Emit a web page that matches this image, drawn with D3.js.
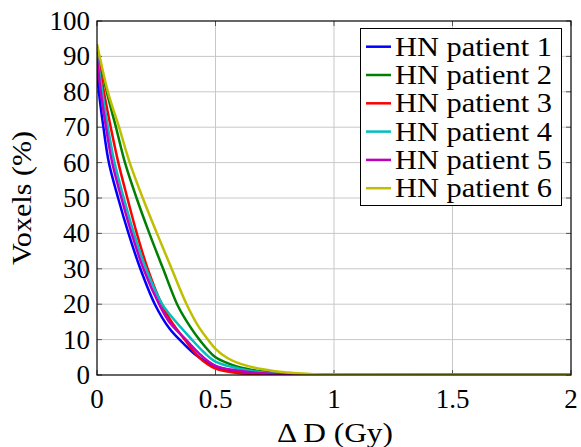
<!DOCTYPE html>
<html><head><meta charset="utf-8">
<script src="https://cdn.jsdelivr.net/npm/d3@7"></script>
<style>
html,body{margin:0;padding:0;background:#fff;}
</style></head>
<body><svg id="c" width="581" height="447"></svg>
<script>
// ---- data ----
const seriesNames = ["HN patient 1","HN patient 2","HN patient 3","HN patient 4","HN patient 5","HN patient 6"];
const seriesColors = ["#0000ff","#008000","#ff0000","#00bfbf","#bf00bf","#bfbf00"];
const xTicks = [0, 0.5, 1, 1.5, 2];
const xTickLabels = ["0","0.5","1","1.5","2"];
const yTicks = [0,10,20,30,40,50,60,70,80,90,100];
const yTickLabels = ["0","10","20","30","40","50","60","70","80","90","100"];

const p1 = [[0,86.5],[0.008,80],[0.027,70],[0.05,60],[0.089,50],[0.133,40],[0.183,30],[0.244,20],[0.305,13.2],[0.36,9.2],[0.42,5.5],[0.5,2.4],[0.6,0.9],[0.7,0.3],[0.8,0.1],[1.0,0],[2.0,0]];
const p2 = [[0,92.5],[0.041,80],[0.08,70],[0.118,60],[0.167,50],[0.221,40],[0.279,30],[0.338,20],[0.38,15],[0.432,10],[0.5,5],[0.55,3.4],[0.6,2.2],[0.7,1.0],[0.8,0.4],[0.9,0.15],[1.0,0.05],[1.2,0],[2.0,0]];
const p3 = [[0,91.5],[0.029,80],[0.058,70],[0.09,60],[0.128,50],[0.168,40],[0.214,30],[0.273,20],[0.31,15.5],[0.37,10],[0.43,5],[0.5,1.8],[0.55,1.0],[0.6,0.5],[0.7,0.15],[0.8,0.05],[1.0,0],[2.0,0]];
const p4 = [[0,90.5],[0.022,80],[0.046,70],[0.074,60],[0.113,50],[0.156,40],[0.207,30],[0.275,20],[0.308,17],[0.4,10],[0.45,6.5],[0.5,3.8],[0.6,1.8],[0.7,0.7],[0.8,0.25],[0.9,0.08],[1.0,0.02],[1.2,0],[2.0,0]];
const p5 = [[0,89.5],[0.016,80],[0.038,70],[0.064,60],[0.103,50],[0.146,40],[0.196,30],[0.262,20],[0.305,15],[0.375,10],[0.44,5.5],[0.5,2.6],[0.6,1.2],[0.7,0.5],[0.8,0.2],[0.9,0.07],[1.0,0],[2.0,0]];
const p6 = [[0,93.5],[0.046,80],[0.093,70],[0.138,60],[0.193,50],[0.253,40],[0.315,30],[0.378,20],[0.43,13.5],[0.468,10],[0.5,7.4],[0.55,4.8],[0.6,3.3],[0.7,1.6],[0.8,0.7],[0.9,0.3],[1.0,0.15],[1.2,0.05],[1.5,0.02],[2.0,0]];
const seriesData = [p1,p2,p3,p4,p5,p6];

// ---- layout ----
const FONT = '"Liberation Serif"';
const L = 97, R = 571, T = 21, B = 375;
const svg = d3.select("#c");
const x = d3.scaleLinear().domain([0,2]).range([L,R]);
const y = d3.scaleLinear().domain([0,100]).range([B,T]);

// grid
const g = svg.append("g");
g.selectAll("line.gx").data(xTicks.slice(1,-1)).enter().append("line")
  .attr("x1",d=>x(d)).attr("x2",d=>x(d)).attr("y1",T).attr("y2",B)
  .attr("stroke","#c8c8c8").attr("stroke-width",1);
g.selectAll("line.gy").data(yTicks.slice(1,-1)).enter().append("line")
  .attr("x1",L).attr("x2",R).attr("y1",d=>y(d)).attr("y2",d=>y(d))
  .attr("stroke","#c8c8c8").attr("stroke-width",1);

// inner ticks on all sides
const tk = 5;
g.selectAll("line.tl").data(yTicks).enter().append("line")
  .attr("x1",L).attr("x2",L+tk).attr("y1",d=>y(d)).attr("y2",d=>y(d)).attr("stroke","#555");
g.selectAll("line.tr").data(yTicks).enter().append("line")
  .attr("x1",R-tk).attr("x2",R).attr("y1",d=>y(d)).attr("y2",d=>y(d)).attr("stroke","#555");
g.selectAll("line.tb").data(xTicks).enter().append("line")
  .attr("x1",d=>x(d)).attr("x2",d=>x(d)).attr("y1",B-tk).attr("y2",B).attr("stroke","#555");
g.selectAll("line.tt").data(xTicks).enter().append("line")
  .attr("x1",d=>x(d)).attr("x2",d=>x(d)).attr("y1",T).attr("y2",T+tk).attr("stroke","#555");

// curves
const line = d3.line().x(d=>x(d[0])).y(d=>y(d[1])).curve(d3.curveCatmullRom.alpha(0.5));
svg.append("clipPath").attr("id","pc").append("rect")
  .attr("x",L).attr("y",T-3).attr("width",R-L).attr("height",B-T+3);
svg.append("g").attr("clip-path","url(#pc)").selectAll("path").data(seriesData).enter().append("path")
  .attr("d",d=>line(d)).attr("fill","none")
  .attr("stroke",(d,i)=>seriesColors[i]).attr("stroke-width",2.5)
  .attr("stroke-linejoin","round");

// frame
svg.append("rect").attr("x",L).attr("y",T).attr("width",R-L).attr("height",B-T)
  .attr("fill","none").attr("stroke","#000").attr("stroke-width",1.2);

// tick labels
const fs = 27;
svg.selectAll("text.xt").data(xTicks).enter().append("text")
  .style("font-family",FONT)
  .attr("x",d=>x(d)).attr("y",408).attr("text-anchor","middle")
  .attr("font-size",fs).text((d,i)=>xTickLabels[i]);
svg.selectAll("text.yt").data(yTicks).enter().append("text")
  .style("font-family",FONT)
  .attr("x",90).attr("y",d=>y(d)+9).attr("text-anchor","end")
  .attr("font-size",fs).text((d,i)=>yTickLabels[i]);

// axis labels
svg.append("text").style("font-family",FONT).attr("x",335).attr("y",442).attr("text-anchor","middle")
  .attr("font-size",fs).attr("textLength",116).attr("lengthAdjust","spacingAndGlyphs").text("\u0394 D (Gy)");
svg.append("text").style("font-family",FONT).attr("transform","translate(31,198) rotate(-90)").attr("text-anchor","middle")
  .attr("font-size",fs).attr("textLength",134).attr("lengthAdjust","spacingAndGlyphs").text("Voxels (%)");

// legend
const lg = svg.append("g");
lg.append("rect").attr("x",360.5).attr("y",28.5).attr("width",201).attr("height",177)
  .attr("fill","#fff").attr("stroke","#000").attr("stroke-width",1);
const rows = lg.selectAll("g.row").data(seriesNames).enter().append("g")
  .attr("transform",(d,i)=>`translate(0,${46.7+28.3*i})`);
rows.append("line").attr("x1",366).attr("x2",391).attr("y1",0).attr("y2",0)
  .attr("stroke",(d,i)=>seriesColors[i]).attr("stroke-width",2.5);
rows.append("text").style("font-family",FONT).attr("x",395).attr("y",9).attr("font-size",fs)
  .attr("textLength",157).attr("lengthAdjust","spacingAndGlyphs").text(d=>d);
</script></body></html>
